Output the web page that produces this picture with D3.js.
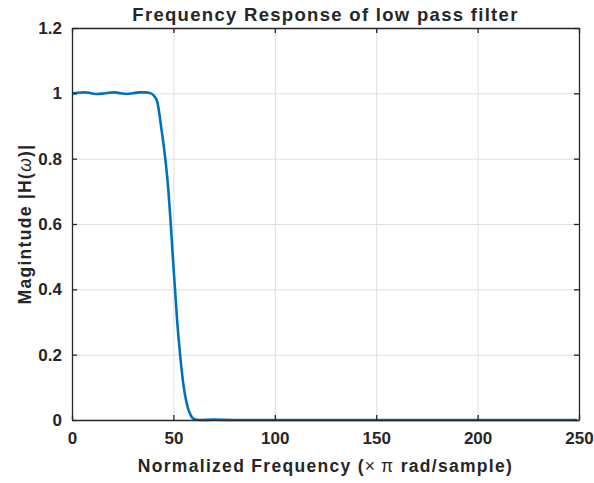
<!DOCTYPE html>
<html lang="en">
<head>
    <meta charset="UTF-8">
    <title>Frequency Response of low pass filter</title>
    <script src="https://d3js.org/d3.v7.min.js"></script>
    <style>
        body {
            margin: 0;
            padding: 0;
            background-color: #fff;
            overflow: hidden;
        }
        text {
            font-family: "Liberation Sans", Arial, sans-serif;
            font-weight: bold;
            fill: #262626;
        }
        .label {
            letter-spacing: 1.3px;
        }
        .grid line {
            stroke: #dfdfdf;
            stroke-width: 1px;
        }
        .response {
            fill: none;
            stroke: #0072bd;
            stroke-width: 2.6px;
        }
    </style>
</head>
<body>
    <div id="chart"></div>

    <script>
        // Values
        const freq = [0, 3, 6, 9, 12, 15, 18, 21, 24, 27, 30, 33, 36, 38, 40, 42, 44, 46, 47.5,
            48.7, 49.7, 50.8, 51.9, 53.3, 54.9, 56.6, 58.5, 60.5, 63, 70, 80, 100, 130, 160, 200, 249];
        const magnitude = [1.000, 1.002, 1.003, 1.001, 0.998, 0.999, 1.002, 1.003, 1.000, 0.998, 1.000,
            1.003, 1.003, 1.002, 0.995, 0.975, 0.895, 0.800, 0.705, 0.600, 0.500, 0.400, 0.300, 0.200,
            0.110, 0.050, 0.015, 0.002, 0.000, 0.001, 0.000, 0.000, 0.000, 0.000, 0.000, 0.000];

        const xTicks = [0, 50, 100, 150, 200, 250];
        const yTicks = [0, 0.2, 0.4, 0.6, 0.8, 1, 1.2];

        const points = freq.map((f, i) => ({ f: f, m: magnitude[i] }));

        const width = 594;
        const height = 483;
        const margin = { top: 28, right: 15, bottom: 63, left: 72 };

        const svg = d3.select("#chart").append("svg")
            .attr("width", width)
            .attr("height", height);

        const x = d3.scaleLinear().domain([0, 250]).range([margin.left, width - margin.right]);
        const y = d3.scaleLinear().domain([0, 1.2]).range([height - margin.bottom, margin.top]);

        // grid
        const grid = svg.append("g").attr("class", "grid");
        grid.selectAll(".gx")
            .data(xTicks.slice(1, -1))
            .enter().append("line")
            .attr("x1", d => x(d) + 0.5).attr("x2", d => x(d) + 0.5)
            .attr("y1", y(0)).attr("y2", y(1.2));
        grid.selectAll(".gy")
            .data(yTicks.slice(1, -1))
            .enter().append("line")
            .attr("y1", d => y(d) + 0.5).attr("y2", d => y(d) + 0.5)
            .attr("x1", x(0)).attr("x2", x(250));

        // curve
        const line = d3.line()
            .x(d => x(d.f))
            .y(d => y(d.m))
            .curve(d3.curveMonotoneX);

        svg.append("path")
            .datum(points)
            .attr("class", "response")
            .attr("d", line);

        // axes (ticks inside, box on all sides)
        const fmtY = d => d3.format("~g")(d);
        const styleAxis = g => {
            g.select(".domain").attr("stroke", "#262626").attr("stroke-width", 1.3);
            g.selectAll(".tick line").attr("stroke", "#262626").attr("stroke-width", 1.3);
            g.selectAll("text").attr("font-size", "17px").attr("fill", "#262626")
                .attr("font-family", "'Liberation Sans', Arial, sans-serif").attr("font-weight", "bold");
        };

        svg.append("g")
            .attr("transform", `translate(0,${y(0)})`)
            .call(d3.axisBottom(x).tickValues(xTicks).tickSizeInner(-5).tickSizeOuter(0).tickPadding(12))
            .call(styleAxis);

        svg.append("g")
            .attr("transform", `translate(0,${y(1.2)})`)
            .call(d3.axisTop(x).tickValues(xTicks).tickSizeInner(-5).tickSizeOuter(0).tickFormat(""))
            .call(styleAxis);

        svg.append("g")
            .attr("transform", `translate(${x(0)},0)`)
            .call(d3.axisLeft(y).tickValues(yTicks).tickFormat(fmtY).tickSizeInner(-5).tickSizeOuter(0).tickPadding(10))
            .call(styleAxis);

        svg.append("g")
            .attr("transform", `translate(${x(250)},0)`)
            .call(d3.axisRight(y).tickValues(yTicks).tickSizeInner(-5).tickSizeOuter(0).tickFormat(""))
            .call(styleAxis);

        // title
        svg.append("text")
            .attr("class", "label")
            .attr("x", (x(0) + x(250)) / 2)
            .attr("y", 21)
            .attr("text-anchor", "middle")
            .attr("font-size", "18.5px")
            .text("Frequency Response of low pass filter");

        // x label
        const xl = svg.append("text")
            .attr("class", "label")
            .attr("x", (x(0) + x(250)) / 2)
            .attr("y", 472)
            .attr("text-anchor", "middle")
            .attr("font-size", "17.5px");
        xl.append("tspan").text("Normalized Frequency (");
        xl.append("tspan").attr("font-weight", "normal").text("\u00d7\u2009\u03c0");
        xl.append("tspan").text(" rad/sample)");

        // y label
        const yl = svg.append("text")
            .attr("class", "label")
            .attr("transform", `translate(31,${(y(0) + y(1.2)) / 2}) rotate(-90)`)
            .attr("text-anchor", "middle")
            .attr("font-size", "17.5px");
        yl.append("tspan").text("Magintude |H(");
        yl.append("tspan").attr("font-weight", "normal").attr("font-style", "italic").text("\u03c9");
        yl.append("tspan").text(")|");
    </script>
</body>
</html>
